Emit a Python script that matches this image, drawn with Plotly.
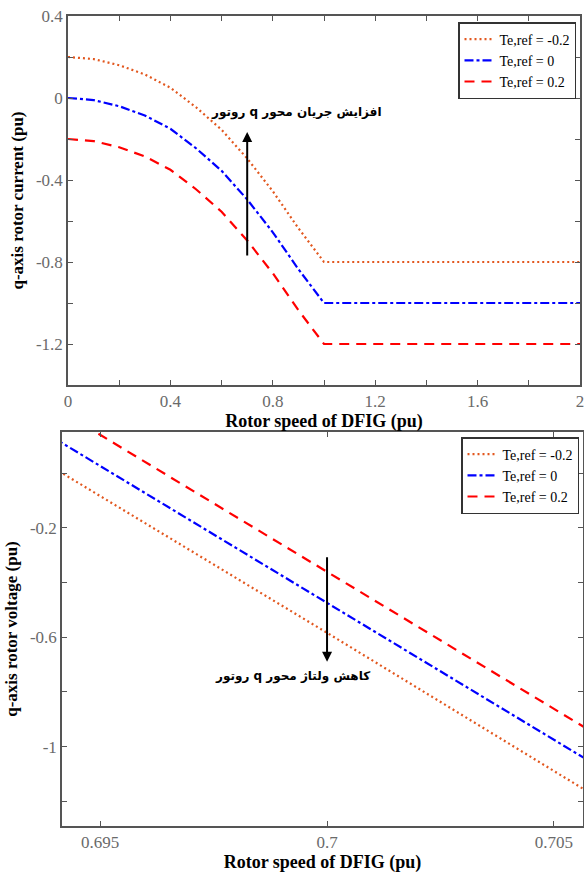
import plotly.graph_objects as go

# ---- data: top panel (q-axis rotor current) ----
speed_top = [0.0, 0.1, 0.2, 0.3, 0.4, 0.5, 0.6, 0.7, 0.8, 0.9, 1.0, 2.0]
iq_te_m02 = [0.2, 0.19, 0.16, 0.115, 0.05, -0.045, -0.155, -0.295, -0.455, -0.635, -0.8, -0.8]
iq_te_0 = [0.0, -0.01, -0.04, -0.085, -0.15, -0.245, -0.355, -0.495, -0.655, -0.835, -1.0, -1.0]
iq_te_p02 = [-0.2, -0.21, -0.24, -0.285, -0.35, -0.445, -0.555, -0.695, -0.855, -1.035, -1.2, -1.2]

# ---- data: bottom panel (q-axis rotor voltage) ----
speed_bot = [0.694, 0.700, 0.706]
vq_te_m02 = [0.016, -0.584, -1.19]
vq_te_0 = [0.126, -0.474, -1.075]
vq_te_p02 = [0.24, -0.362, -0.962]

series_names = ["Te,ref = -0.2", "Te,ref = 0", "Te,ref = 0.2"]
top_xticks = [0, 0.2, 0.4, 0.6, 0.8, 1.0, 1.2, 1.4, 1.6, 1.8, 2.0]
top_xlabels = ["0", "", "0.4", "", "0.8", "", "1.2", "", "1.6", "", "2"]
top_yticks = [0.4, 0.2, 0, -0.2, -0.4, -0.6, -0.8, -1.0, -1.2, -1.4]
top_ylabels = ["0.4", "", "0", "", "-0.4", "", "-0.8", "", "-1.2", ""]
bot_xticks = [0.695, 0.700, 0.705]
bot_xlabels = ["0.695", "0.7", "0.705"]
bot_yticks = [0, -0.2, -0.4, -0.6, -0.8, -1.0, -1.2]
bot_ylabels = ["", "-0.2", "", "-0.6", "", "-1", ""]

ORANGE = "#E2571E"
BLUE = "#0000FF"
RED = "#FF0000"
SERIF = "Liberation Serif"

fig = go.Figure()
styles = [(ORANGE, "2px,3px"), (BLUE, "9px,3px,3px,3px"), (RED, "10px,7px")]
for name, ys, (c, d) in zip(series_names, [iq_te_m02, iq_te_0, iq_te_p02], styles):
    fig.add_trace(go.Scatter(x=speed_top, y=ys, mode="lines", name=name,
                             line=dict(color=c, dash=d, width=2.2),
                             xaxis="x", yaxis="y", legend="legend"))
for name, ys, (c, d) in zip(series_names, [vq_te_m02, vq_te_0, vq_te_p02], styles):
    fig.add_trace(go.Scatter(x=speed_bot, y=ys, mode="lines", name=name,
                             line=dict(color=c, dash=d, width=2.2),
                             xaxis="x2", yaxis="y2", legend="legend2"))

W, H = 584, 875
axis_common = dict(showline=True, linecolor="#555555", linewidth=1.5, mirror="ticks",
                   ticks="inside", ticklen=5, tickcolor="#555555", tickwidth=1,
                   showgrid=False, zeroline=False, automargin=False,
                   ticklabeloverflow="allow",
                   tickfont=dict(family=SERIF, size=17, color="#6a6a6a"))
title_font = dict(family=SERIF, size=18, color="black", weight="bold")
ytitle_font = dict(family=SERIF, size=17, color="black", weight="bold")
legend_common = dict(xanchor="right", yanchor="top",
                     bgcolor="white", bordercolor="#333333", borderwidth=1.5,
                     font=dict(family=SERIF, size=14, color="black"),
                     tracegroupgap=0, itemwidth=30)

fig.update_layout(
    template="none",
    width=W, height=H,
    margin=dict(l=0, r=0, t=0, b=0),
    paper_bgcolor="white", plot_bgcolor="white",
    xaxis=dict(axis_common, domain=[68 / W, 580 / W], range=[0, 2], anchor="y",
               tickvals=top_xticks, ticktext=top_xlabels,
               title=dict(text="Rotor speed of DFIG (pu)", font=title_font, standoff=2)),
    yaxis=dict(axis_common, domain=[1 - 385 / H, 1 - 16 / H], range=[-1.4, 0.4], anchor="x",
               tickvals=top_yticks, ticktext=top_ylabels,
               title=dict(text="q-axis rotor current (pu)", font=ytitle_font, standoff=8)),
    xaxis2=dict(axis_common, domain=[62 / W, 583 / W], range=[0.69416, 0.70564], anchor="y2",
                tickvals=bot_xticks, ticktext=bot_xlabels,
                title=dict(text="Rotor speed of DFIG (pu)", font=title_font, standoff=2)),
    yaxis2=dict(axis_common, domain=[1 - 826 / H, 1 - 432 / H], range=[-1.29, 0.15], anchor="x2",
                tickvals=bot_yticks, ticktext=bot_ylabels,
                title=dict(text="q-axis rotor voltage (pu)", font=ytitle_font, standoff=8)),
    legend=dict(legend_common, x=576 / W, y=1 - 22 / H),
    legend2=dict(legend_common, x=579 / W, y=1 - 437 / H),
    showlegend=True,
)

RLE, PDF = "\u202b", "\u202c"
fig.add_annotation(x=0.7, y=-0.166, ax=0.7, ay=-0.776, xref="x", yref="y", axref="x", ayref="y",
                   showarrow=True, arrowhead=2, arrowsize=1, arrowwidth=2, arrowcolor="black", text="")
fig.add_annotation(x=0.893, y=-0.073, xref="x", yref="y", showarrow=False,
                   text=RLE + "افزایش جریان محور q روتور" + PDF,
                   font=dict(family="DejaVu Sans", size=12, color="black", weight="bold"))
fig.add_annotation(x=0.7, y=-0.69, ax=0.7, ay=-0.302, xref="x2", yref="y2", axref="x2", ayref="y2",
                   showarrow=True, arrowhead=2, arrowsize=1, arrowwidth=2, arrowcolor="black", text="")
fig.add_annotation(x=0.69923, y=-0.744, xref="x2", yref="y2", showarrow=False,
                   text=RLE + "کاهش ولتاژ محور q روتور" + PDF,
                   font=dict(family="DejaVu Sans", size=12, color="black", weight="bold"))

fig.write_html("out.html", config={"displayModeBar": False},
               post_script="document.body.style.margin='0';")
